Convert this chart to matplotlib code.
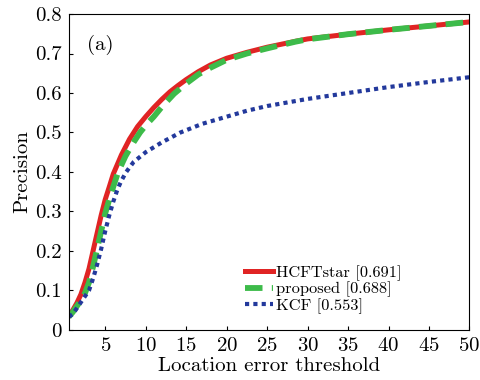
import matplotlib
matplotlib.use("Agg")
from matplotlib import pyplot as plt

# Data
red_x = [0.5, 1, 1.5, 2, 2.5, 3, 3.5, 4, 4.5, 5, 5.5, 6, 7, 8, 9, 10, 11, 12, 13, 14, 15,
         16.5, 18, 20, 22.5, 25, 28.5, 30, 35, 40, 45, 50]
hcftstar = [0.035, 0.05, 0.068, 0.09, 0.12, 0.155, 0.2, 0.245, 0.29, 0.33, 0.362, 0.395, 0.443,
            0.483, 0.515, 0.54, 0.563, 0.584, 0.603, 0.619, 0.634, 0.654, 0.671, 0.688, 0.703,
            0.716, 0.731, 0.737, 0.749, 0.76, 0.77, 0.78]
green_x = [0.5, 1, 1.5, 2, 2.5, 3, 3.5, 4, 4.5, 5, 5.5, 6, 6.6, 7.5, 8.5, 9.3, 10, 11, 12,
           13.5, 15, 16.5, 18, 20, 22.5, 25, 28.5, 30, 35, 40, 45, 50]
proposed = [0.033, 0.045, 0.06, 0.075, 0.093, 0.12, 0.16, 0.205, 0.25, 0.295, 0.33, 0.363, 0.40,
            0.44, 0.475, 0.50, 0.518, 0.54, 0.565, 0.598, 0.624, 0.647, 0.664, 0.684, 0.70,
            0.713, 0.73, 0.736, 0.749, 0.76, 0.77, 0.78]
blue_x = [0.5, 1, 1.5, 2, 2.5, 3, 3.5, 4, 4.5, 5, 5.5, 6, 6.5, 7, 7.6, 8.5, 10, 12, 14.3, 17,
          20, 22.5, 25, 30, 35, 40, 45, 50]
kcf = [0.033, 0.04, 0.055, 0.07, 0.085, 0.10, 0.13, 0.165, 0.205, 0.25, 0.29, 0.325, 0.355, 0.378,
       0.40, 0.425, 0.45, 0.475, 0.50, 0.522, 0.54, 0.555, 0.567, 0.585, 0.60, 0.615, 0.628, 0.64]
labels = ["HCFTstar [0.691]", "proposed [0.688]", "KCF [0.553]"]
xticks = [5, 10, 15, 20, 25, 30, 35, 40, 45, 50]
yticks = [0, 0.1, 0.2, 0.3, 0.4, 0.5, 0.6, 0.7, 0.8]
ytick_labels = ["0", "0.1", "0.2", "0.3", "0.4", "0.5", "0.6", "0.7", "0.8"]

plt.rcParams["font.family"] = ["cmr10", "DejaVu Serif"]
plt.rcParams["axes.formatter.use_mathtext"] = True

fig = plt.figure(figsize=(4.81, 3.80), dpi=100)
ax = fig.add_axes([0.143, 0.132, 0.833, 0.831])

ax.plot(red_x, hcftstar, color="#e02424", lw=3.6, label=labels[0])
ax.plot(green_x, proposed, color="#3dbb4a", lw=4.2, ls=(0, (3, 1.6)), label=labels[1])
ax.plot(blue_x, kcf, color="#23399c", lw=3.0, ls=(0, (1, 1)), label=labels[2])

ax.set_xlim(0.5, 50)
ax.set_ylim(0, 0.8)
ax.set_xticks(xticks)
ax.set_yticks(yticks)
ax.set_yticklabels(ytick_labels)
ax.tick_params(direction="in", labelsize=15, length=3, width=0.8, pad=5)
for s in ax.spines.values():
    s.set_linewidth(0.8)

ax.set_xlabel("Location error threshold", fontsize=15, labelpad=2)
ax.set_ylabel("Precision", fontsize=15, labelpad=3)
ax.text(0.045, 0.935, "(a)", transform=ax.transAxes, fontsize=15, va="top")

ax.legend(loc="lower right", bbox_to_anchor=(0.86, 0.015), frameon=False, fontsize=11.8,
          handlelength=1.7, handletextpad=0.2, labelspacing=0.05, borderpad=0.2)

fig.savefig("out.png", dpi=100)
